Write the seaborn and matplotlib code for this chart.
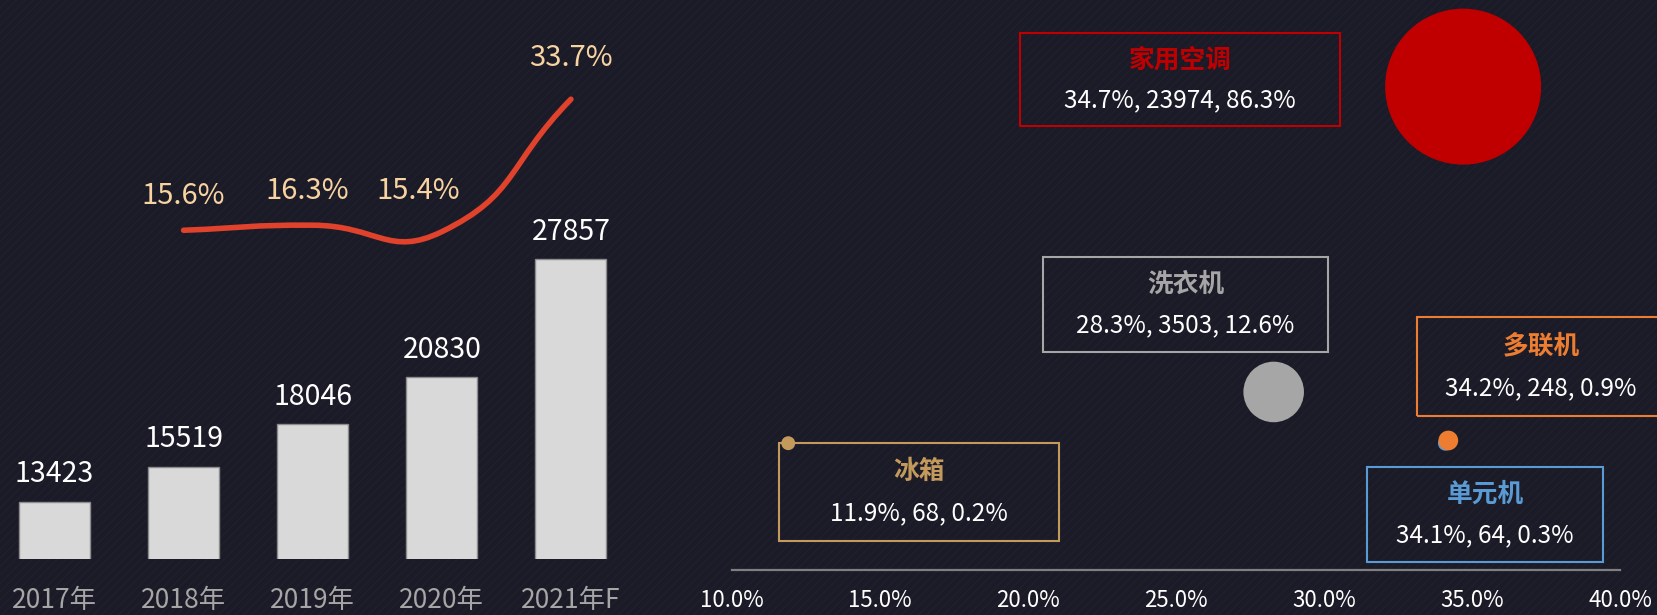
import numpy as np
import pandas as pd
import matplotlib
matplotlib.use("Agg")
import matplotlib.pyplot as plt
import seaborn as sns
from matplotlib.path import Path
from matplotlib.patches import PathPatch, Rectangle

# ---------------- data ----------------
years = ["2017年", "2018年", "2019年", "2020年", "2021年F"]
sales = [13423, 15519, 18046, 20830, 27857]
growth_years = ["2018年", "2019年", "2020年", "2021年F"]
growth = [15.6, 16.3, 15.4, 33.7]

products = ["家用空调", "洗衣机", "冰箱", "单元机", "多联机"]
prod_growth = [34.7, 28.3, 11.9, 34.1, 34.2]
prod_value = [23974, 3503, 68, 64, 248]
prod_share = [86.3, 12.6, 0.2, 0.3, 0.9]
x_ticks = [10, 15, 20, 25, 30, 35, 40]

# ---------------- style ----------------
BG = "#1b1b28"
colors = {"家用空调": "#c00000", "洗衣机": "#a6a6a6", "冰箱": "#c49a5c",
          "单元机": "#5b9bd5", "多联机": "#ed7d31"}
# annotation boxes in pixels: x0, y0, x1, y1
boxes = {"家用空调": (1020, 33, 1340, 126),
         "洗衣机": (1043, 257, 1328, 352),
         "多联机": (1417, 317, 1665, 416),
         "冰箱": (779, 443, 1059, 541),
         "单元机": (1367, 467, 1603, 562)}
# growth label offsets (points)
label_offsets = [(0, 25), (-4, 24.5), (-17, 29.5), (0, 29.5)]

sns.set_theme(style="dark")
plt.rcParams["font.family"] = ["Noto Sans CJK SC", "DejaVu Sans"]
plt.rcParams["hatch.linewidth"] = 0.6

W, H = 1657, 615
fig = plt.figure(figsize=(W / 100, H / 100), dpi=100, facecolor=BG)
fig.patches.append(Rectangle((0, 0), 1, 1, transform=fig.transFigure,
                             facecolor=BG, edgecolor="#212130", hatch="////",
                             lw=0, zorder=-10))


def rect(x0, y0, x1, y1):
    return [x0 / W, 1 - y1 / H, (x1 - x0) / W, (y1 - y0) / H]


# ---------------- left: bars + growth line ----------------
ax1 = fig.add_axes(rect(0, 0, 660, 559))
ax1.set_facecolor("none")
df = pd.DataFrame({"year": years, "sales": sales})
sns.barplot(data=df, x="year", y="sales", color="#d9d9d9", saturation=1,
            width=0.55, edgecolor="#8c8c8c", linewidth=1, ax=ax1)
ax1.set_xlim(-0.422, 4.69)
ax1.set_ylim(10037, 43242)
for c in ax1.containers:
    ax1.bar_label(c, labels=[str(v) for v in sales], padding=9,
                  color="white", fontsize=20.5)
ax1.set_xlabel("")
ax1.set_ylabel("")
ax1.set_yticks([])
ax1.tick_params(axis="x", length=0, pad=20, labelsize=19, labelcolor="#a6a6a6")
for s in ax1.spines.values():
    s.set_visible(False)

ax2 = ax1.twinx()
ax2.set_ylim(-29.8, 47.4)
ax2.set_yticks([])
for s in ax2.spines.values():
    s.set_visible(False)
gx = [years.index(y) for y in growth_years]
pts = ax2.transData.transform(np.column_stack([gx, growth]))
n = len(pts)
smooth = 0.5
cps = []
for i in range(n):
    prev = pts[i - 1] if i > 0 else pts[i]
    nxt = pts[i + 1] if i < n - 1 else pts[i]
    v = nxt - prev
    lp = np.hypot(*(pts[i] - prev))
    ln = np.hypot(*(nxt - pts[i]))
    r = ln / (lp + ln) if (lp + ln) > 0 else 0.5
    cps.append((pts[i] - v * smooth * (1 - r), pts[i] + v * smooth * r))
verts = [pts[0]]
codes = [Path.MOVETO]
for i in range(n - 1):
    verts += [cps[i][1], cps[i + 1][0], pts[i + 1]]
    codes += [Path.CURVE4] * 3
verts = ax2.transData.inverted().transform(np.array(verts))
ax2.add_patch(PathPatch(Path(verts, codes), fill=False, edgecolor="#e0422b",
                        lw=4, capstyle="round", joinstyle="round"))
for x, v, off in zip(gx, growth, label_offsets):
    ax2.annotate(f"{v}%", (x, v), xytext=off, textcoords="offset points",
                 ha="center", va="center", color="#f7d3a1", fontsize=21)

# ---------------- right: bubble chart ----------------
ax3 = fig.add_axes(rect(732, 0, 1620, 570))
ax3.set_facecolor("none")
bdf = pd.DataFrame({"name": products, "growth": prod_growth,
                    "value": prod_value, "share": prod_share})
sns.scatterplot(data=bdf, x="growth", y="value", hue="name", palette=colors,
                size="share", sizes=(100, 12611), size_norm=(0.2, 86.3),
                legend=False, linewidth=0, alpha=1, clip_on=False, ax=ax3)
ax3.set_xlim(10, 40)
ax3.set_ylim(-8435, 29784)
ax3.set_xticks(x_ticks)
ax3.set_xticklabels([f"{t:.1f}%" for t in x_ticks])
ax3.set_yticks([])
ax3.set_xlabel("")
ax3.set_ylabel("")
ax3.tick_params(axis="x", length=0, pad=14, labelsize=16, labelcolor="white")
for k, s in ax3.spines.items():
    s.set_visible(k == "bottom")
ax3.spines["bottom"].set_color("#7f7f7f")
ax3.spines["bottom"].set_linewidth(1.6)

for name, g, v, s in zip(products, prod_growth, prod_value, prod_share):
    x0, y0, x1, y1 = boxes[name]
    fig.patches.append(Rectangle((x0 / W, 1 - y1 / H), (x1 - x0) / W, (y1 - y0) / H,
                                 transform=fig.transFigure, fill=False,
                                 edgecolor=colors[name], lw=1.5))
    cx = (x0 + x1) / 2 / W
    if name == "多联机":
        cx = 1541 / W
    hgt = y1 - y0
    fig.text(cx, 1 - (y0 + hgt * 0.29) / H, name, ha="center", va="center",
             color=colors[name], fontsize=18.5, fontweight="bold")
    fig.text(cx, 1 - (y0 + hgt * 0.72) / H, f"{g}%, {v}, {s}%", ha="center",
             va="center", color="white", fontsize=17.5)

fig.savefig("out.png", dpi=100, facecolor=BG)
